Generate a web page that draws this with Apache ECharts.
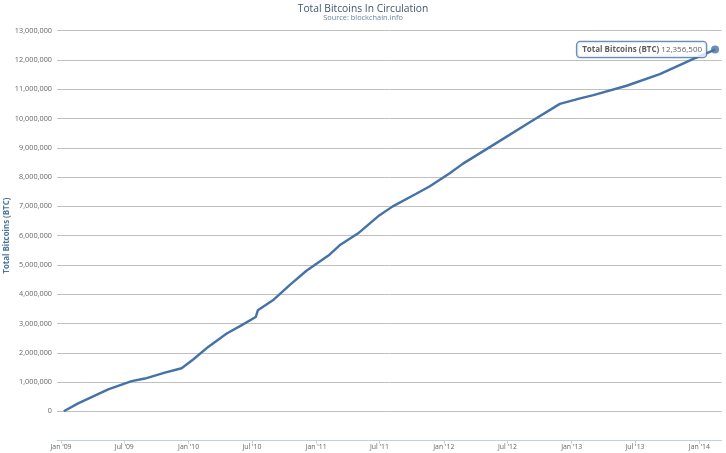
<!DOCTYPE html>
<html>
<head>
<meta charset="utf-8">
<script src="https://cdn.jsdelivr.net/npm/echarts@6/dist/echarts.min.js"></script>
<style>
html,body{margin:0;padding:0;background:#fff;}
#chart{width:726px;height:453px;}
</style>
</head>
<body>
<div id="chart"></div>
<script>
var dates = ['2009-01-09','2009-02-19','2009-05-16','2009-07-22','2009-08-29','2009-10-25','2009-12-12',
  '2010-01-14','2010-02-26','2010-04-20','2010-05-28','2010-07-12','2010-07-18','2010-08-30','2010-10-17','2010-12-04',
  '2011-02-08','2011-03-09','2011-04-30','2011-06-27','2011-08-08','2011-10-14','2011-11-21',
  '2012-01-18','2012-02-25','2012-05-30','2012-09-03','2012-11-28',
  '2013-01-25','2013-03-04','2013-06-07','2013-09-10','2013-12-15','2014-02-15'];
var totalBtc = [0,270000,750000,1030000,1120000,1320000,1470000,
  1770000,2200000,2660000,2910000,3220000,3450000,3790000,4310000,4800000,
  5350000,5670000,6070000,6660000,7000000,7430000,7680000,
  8130000,8460000,9160000,9870000,10500000,
  10690000,10800000,11120000,11520000,12040000,12356500];
var tickDates = ['2009-01-01','2009-07-01','2010-01-01','2010-07-01','2011-01-01','2011-07-01',
  '2012-01-01','2012-07-01','2013-01-01','2013-07-01','2014-01-01'];
var tickLabels = ["Jan '09","Jul '09","Jan '10","Jul '10","Jan '11","Jul '11",
  "Jan '12","Jul '12","Jan '13","Jul '13","Jan '14"];
var seriesName = 'Total Bitcoins (BTC)';

var FONT = 'Open Sans';
function ts(d){ return new Date(d + 'T00:00:00Z').getTime(); }
var tickTs = tickDates.map(ts);
var lineData = dates.map(function(d, i){ return [ts(d), totalBtc[i]]; });
var last = lineData[lineData.length - 1];

function fmt(n){ return String(n).replace(/\B(?=(\d{3})+(?!\d))/g, ','); }

var chart = echarts.init(document.getElementById('chart'), null, {renderer:'canvas'});
chart.setOption({
  animation:false,
  backgroundColor:'#ffffff',
  title:{
    text:'Total Bitcoins In Circulation',
    subtext:'Source: blockchain.info',
    left:'center', top:-1, itemGap:0,
    textStyle:{color:'#3E576F', fontFamily:FONT, fontSize:10.3, fontWeight:'normal'},
    subtextStyle:{color:'#6D869F', fontFamily:FONT, fontSize:7.4}
  },
  grid:{left:57, right:4.3, top:30.7, bottom:12.4, containLabel:false, outerBoundsMode:'none'},
  xAxis:{
    type:'value',
    min:ts('2008-12-20') + 12*3600*1000,
    max:ts('2014-03-06'),
    axisLine:{show:true, onZero:false, lineStyle:{color:'#C0D0E0', width:1}},
    axisTick:{show:true, length:3, customValues:tickTs, lineStyle:{color:'#C0D0E0'}},
    axisLabel:{
      show:true, customValues:tickTs, margin:3,
      color:'#666', fontFamily:FONT, fontSize:6.9, hideOverlap:false,
      formatter:function(v){ var i = tickTs.indexOf(v); return i >= 0 ? tickLabels[i] : ''; }
    },
    splitLine:{show:false}
  },
  yAxis:{
    type:'value', min:-1000000, max:13000000, interval:1000000,
    name:seriesName, nameLocation:'middle', nameGap:46, nameRotate:90, nameMoveOverlap:false,
    nameTextStyle:{color:'#4D759E', fontFamily:FONT, fontSize:7.9, fontWeight:'bold'},
    axisLine:{show:false}, axisTick:{show:false},
    axisLabel:{
      margin:5, color:'#666', fontFamily:FONT, fontSize:7.3,
      formatter:function(v){ return v < 0 ? '' : fmt(v); }
    },
    splitLine:{show:true, lineStyle:{color:'#C0C0C0', width:1}}
  },
  series:[
    {
      name:seriesName, type:'line', data:lineData, showSymbol:false, symbol:'none',
      lineStyle:{color:'#4572A7', width:2.4}, itemStyle:{color:'#4572A7'}, z:3
    },
    {
      name:seriesName, type:'scatter', data:[last], symbol:'circle', symbolSize:8,
      itemStyle:{color:'#4572A7'}, z:5,
      label:{
        show:true, position:'left', distance:5,
        formatter:function(p){ return '{b|' + seriesName + '} ' + fmt(p.value[1]); },
        backgroundColor:'#ffffff', borderColor:'#4572A7', borderWidth:1.3, borderRadius:3,
        padding:[4,4,3,5], color:'#333', fontFamily:FONT, fontSize:8,
        rich:{b:{fontWeight:'bold', color:'#333', fontFamily:FONT, fontSize:8}}
      }
    }
  ]
});
</script>
</body>
</html>
